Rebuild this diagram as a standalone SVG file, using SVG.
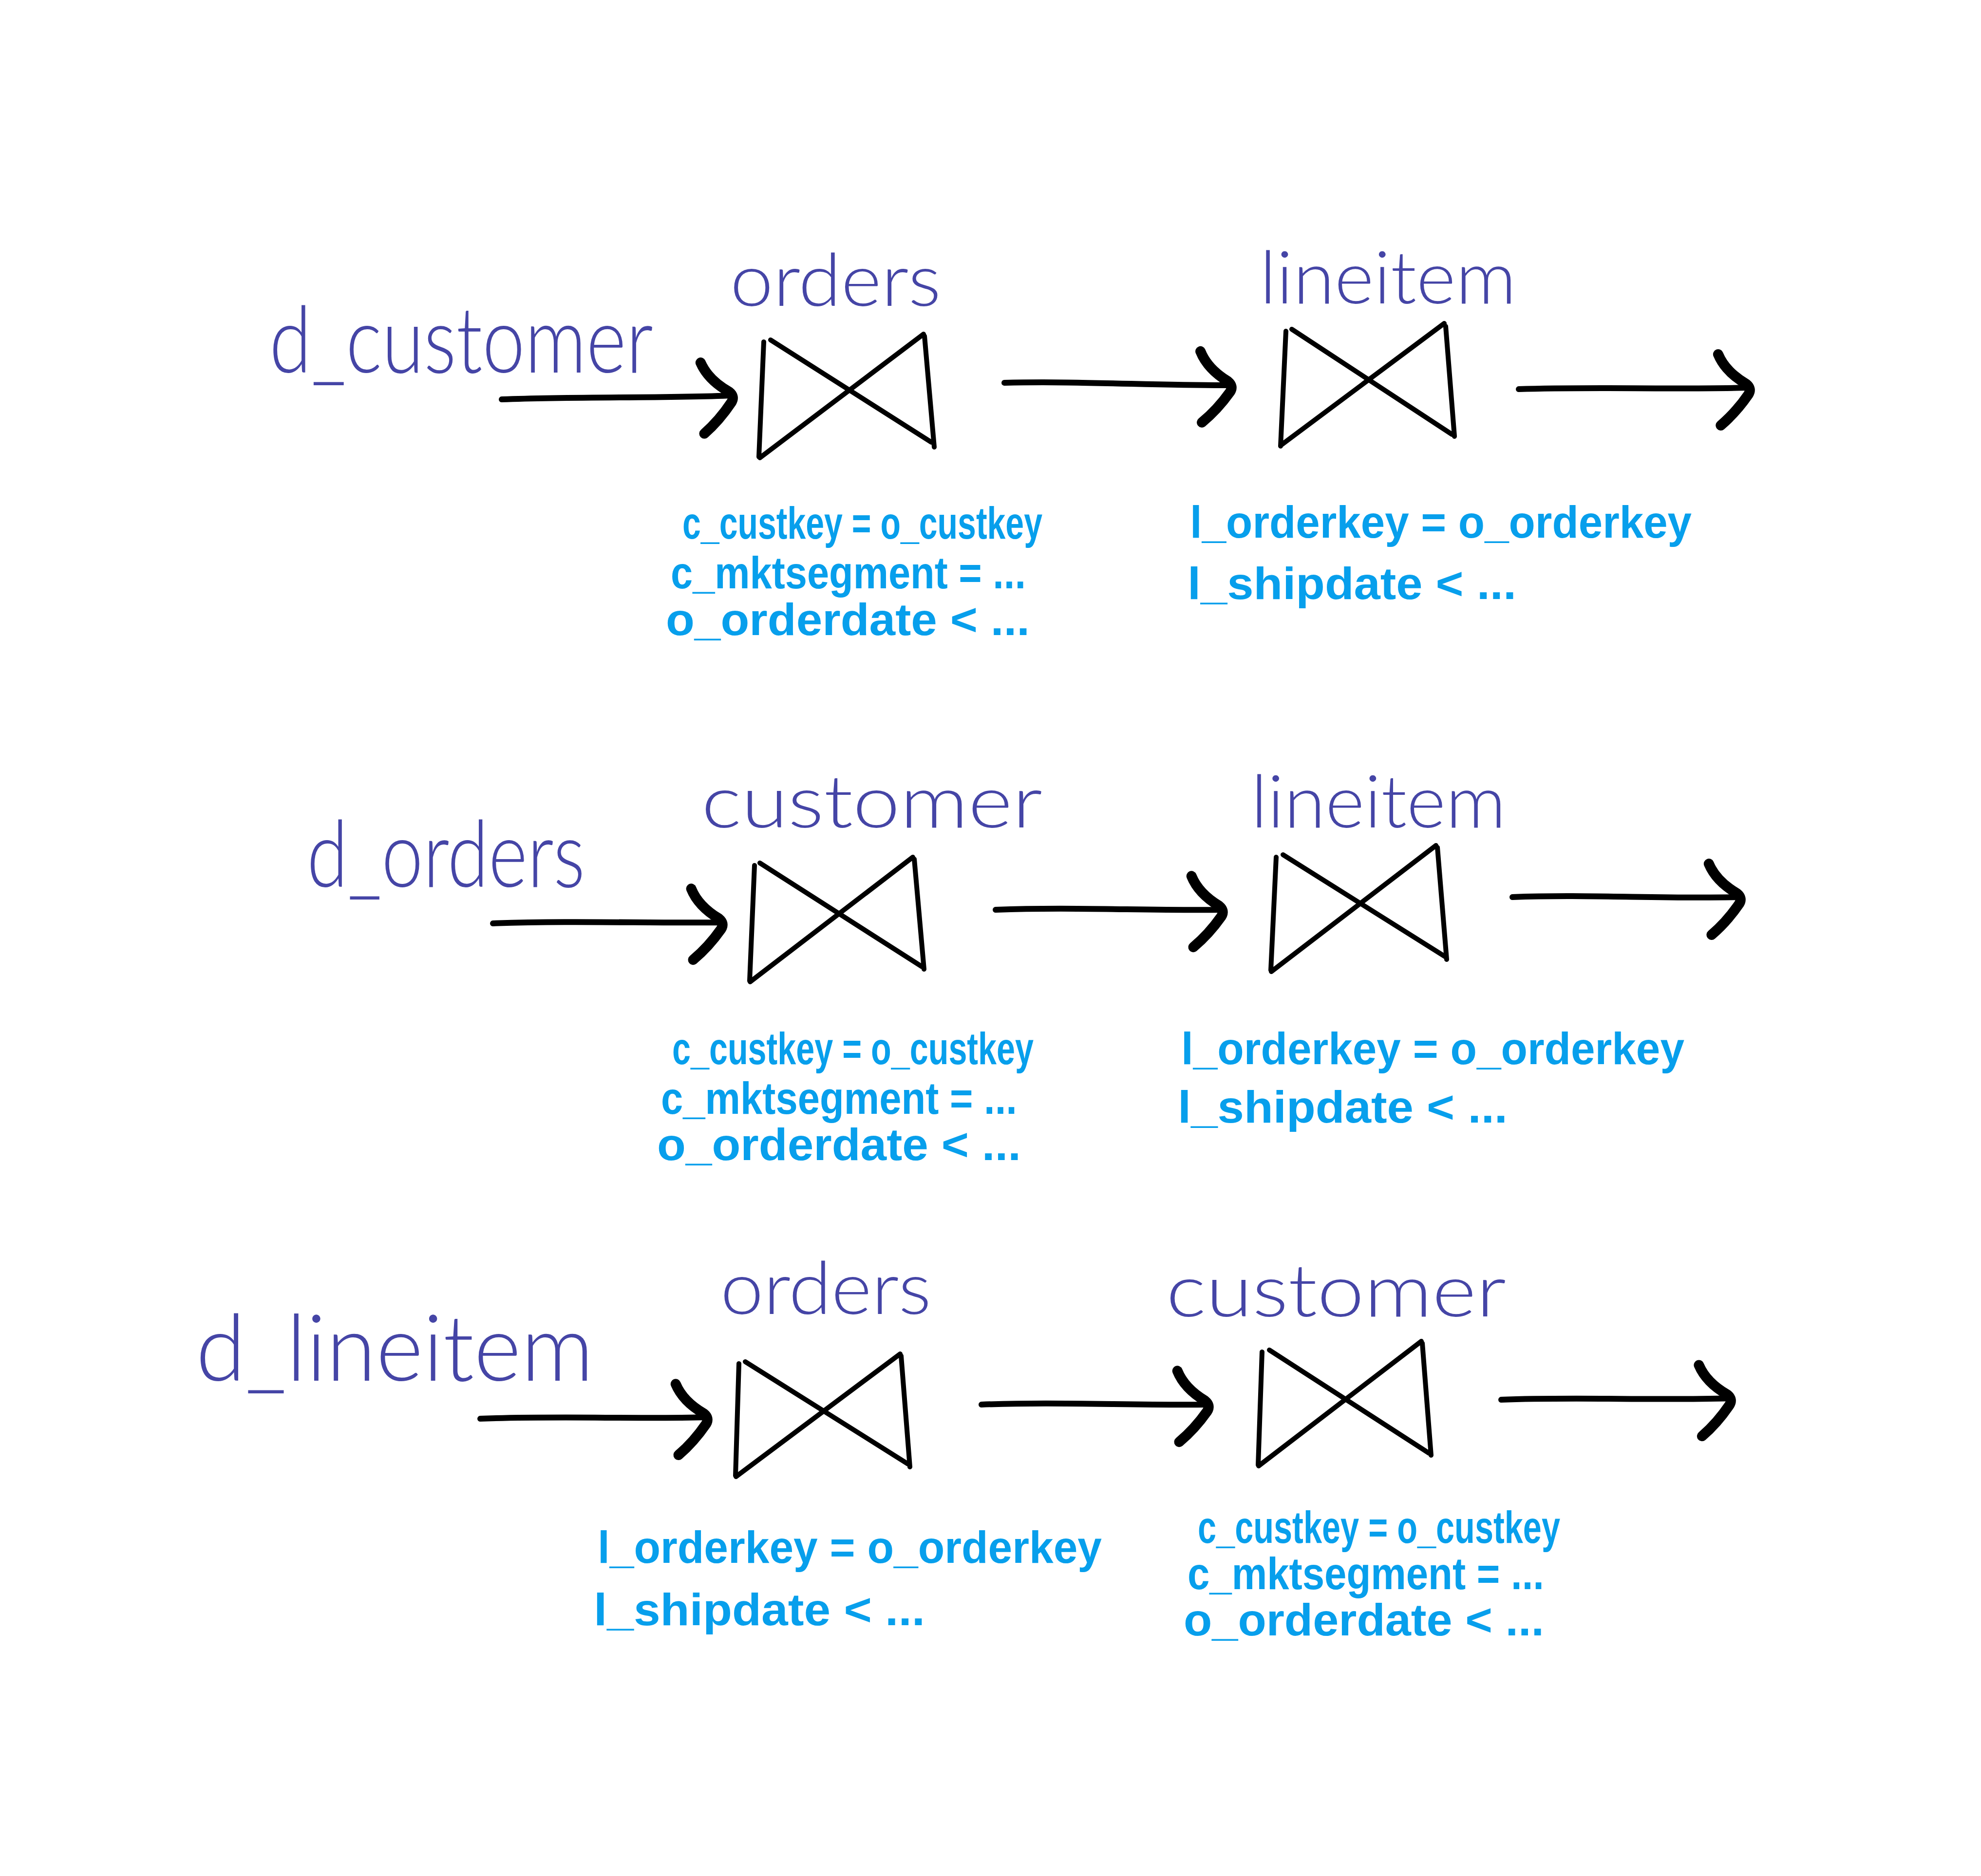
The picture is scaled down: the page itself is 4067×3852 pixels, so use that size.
<svg xmlns="http://www.w3.org/2000/svg" width="4067" height="3852" viewBox="0 0 4067 3852">
<style>
.bg{fill:#ffffff}
.tbl{font-family:Lato,"Open Sans","Noto Sans",sans-serif;font-size:150px;font-weight:300;fill:#4545a6}
.src{font-family:Lato,"Open Sans","Noto Sans",sans-serif;font-size:190px;font-weight:300;fill:#4545a6}
.cond{font-family:"Liberation Sans Narrow","Liberation Sans",Arial,sans-serif;font-size:92px;font-weight:bold;fill:#079fec}
.bow{fill:none;stroke:#000;stroke-width:10;stroke-linecap:round;stroke-linejoin:round}
.edge{fill:none;stroke:#000;stroke-width:12;stroke-linecap:round;marker-end:url(#head)}
</style>
<defs>
<marker id="head" markerUnits="userSpaceOnUse" viewBox="-90 -90 110 180" markerWidth="110" markerHeight="180" refX="0" refY="0" orient="auto" overflow="visible">
<path d="M-64,-70 Q-50,-34 -8,-8 Q4,2 -4,14 Q-30,50 -62,76" fill="none" stroke="#000" stroke-width="21" stroke-linecap="round" stroke-linejoin="round"/>
</marker>
</defs>
<rect class="bg" x="0" y="0" width="4067" height="3852"/>

<!-- Row 1 -->
<g id="src-d_customer"><text class="src" x="553" y="765" textLength="788" lengthAdjust="spacingAndGlyphs">d_customer</text></g>
<g id="join-r1-orders">
<text class="tbl" x="1499" y="628" textLength="433" lengthAdjust="spacingAndGlyphs">orders</text>
<path class="bow" d="M1568,702 L1558,938 M1898,690 L1918,918 M1582,698 L1912,908 M1560,940 L1896,686"/>
<text class="cond" x="1401" y="1106" textLength="739" lengthAdjust="spacingAndGlyphs">c_custkey = o_custkey</text>
<text class="cond" x="1377" y="1208" textLength="729" lengthAdjust="spacingAndGlyphs">c_mktsegment = ...</text>
<text class="cond" x="1367" y="1304" textLength="747" lengthAdjust="spacingAndGlyphs">o_orderdate &lt; ...</text>
</g>
<g id="join-r1-lineitem">
<text class="tbl" x="2586" y="623" textLength="527" lengthAdjust="spacingAndGlyphs">lineitem</text>
<path class="bow" d="M2640,680 L2629,916 M2968,670 L2986,896 M2652,676 L2981,892 M2630,914 L2965,664"/>
<text class="cond" x="2443" y="1104" textLength="1030" lengthAdjust="spacingAndGlyphs">l_orderkey = o_orderkey</text>
<text class="cond" x="2438" y="1230" textLength="675" lengthAdjust="spacingAndGlyphs">l_shipdate &lt; ...</text>
</g>

<!-- Row 2 -->
<g id="src-d_orders"><text class="src" x="630" y="1821" textLength="571" lengthAdjust="spacingAndGlyphs">d_orders</text></g>
<g id="join-r2-customer">
<text class="tbl" x="1440" y="1699" textLength="700" lengthAdjust="spacingAndGlyphs">customer</text>
<path class="bow" d="M1549,1777 L1539,2014 M1877,1764 L1897,1990 M1560,1772 L1893,1985 M1540,2016 L1874,1760"/>
<text class="cond" x="1380" y="2185" textLength="742" lengthAdjust="spacingAndGlyphs">c_custkey = o_custkey</text>
<text class="cond" x="1357" y="2287" textLength="731" lengthAdjust="spacingAndGlyphs">c_mktsegment = ...</text>
<text class="cond" x="1349" y="2382" textLength="747" lengthAdjust="spacingAndGlyphs">o_orderdate &lt; ...</text>
</g>
<g id="join-r2-lineitem">
<text class="tbl" x="2568" y="1699" textLength="524" lengthAdjust="spacingAndGlyphs">lineitem</text>
<path class="bow" d="M2620,1760 L2609,1992 M2951,1740 L2970,1970 M2634,1755 L2968,1965 M2610,1995 L2948,1736"/>
<text class="cond" x="2425" y="2185" textLength="1033" lengthAdjust="spacingAndGlyphs">l_orderkey = o_orderkey</text>
<text class="cond" x="2418" y="2305" textLength="677" lengthAdjust="spacingAndGlyphs">l_shipdate &lt; ...</text>
</g>

<!-- Row 3 -->
<g id="src-d_lineitem"><text class="src" x="402" y="2835" textLength="817" lengthAdjust="spacingAndGlyphs">d_lineitem</text></g>
<g id="join-r3-orders">
<text class="tbl" x="1479" y="2698" textLength="433" lengthAdjust="spacingAndGlyphs">orders</text>
<path class="bow" d="M1517,2800 L1510,3030 M1850,2784 L1868,3012 M1530,2796 L1864,3006 M1511,3032 L1848,2780"/>
<text class="cond" x="1227" y="3209" textLength="1035" lengthAdjust="spacingAndGlyphs">l_orderkey = o_orderkey</text>
<text class="cond" x="1219" y="3337" textLength="680" lengthAdjust="spacingAndGlyphs">l_shipdate &lt; ...</text>
</g>
<g id="join-r3-customer">
<text class="tbl" x="2394" y="2703" textLength="698" lengthAdjust="spacingAndGlyphs">customer</text>
<path class="bow" d="M2591,2776 L2583,3008 M2920,2758 L2938,2988 M2606,2772 L2934,2984 M2584,3010 L2918,2754"/>
<text class="cond" x="2459" y="3168" textLength="744" lengthAdjust="spacingAndGlyphs">c_custkey = o_custkey</text>
<text class="cond" x="2438" y="3263" textLength="732" lengthAdjust="spacingAndGlyphs">c_mktsegment = ...</text>
<text class="cond" x="2430" y="3358" textLength="740" lengthAdjust="spacingAndGlyphs">o_orderdate &lt; ...</text>
</g>

<g id="connectors">
<path class="edge" d="M1030,820 C1200,814 1350,818 1505,812"/>
<path class="edge" d="M2062,786 C2220,782 2370,792 2529,791"/>
<path class="edge" d="M3118,799 C3270,794 3420,800 3593,796"/>
<path class="edge" d="M1012,1896 C1180,1890 1330,1896 1484,1894"/>
<path class="edge" d="M2044,1868 C2200,1862 2350,1870 2511,1868"/>
<path class="edge" d="M3105,1842 C3260,1836 3410,1846 3574,1842"/>
<path class="edge" d="M986,2913 C1150,2907 1300,2914 1453,2910"/>
<path class="edge" d="M2015,2884 C2170,2878 2320,2886 2482,2884"/>
<path class="edge" d="M3082,2874 C3240,2868 3390,2876 3554,2871"/>
</g>
</svg>
